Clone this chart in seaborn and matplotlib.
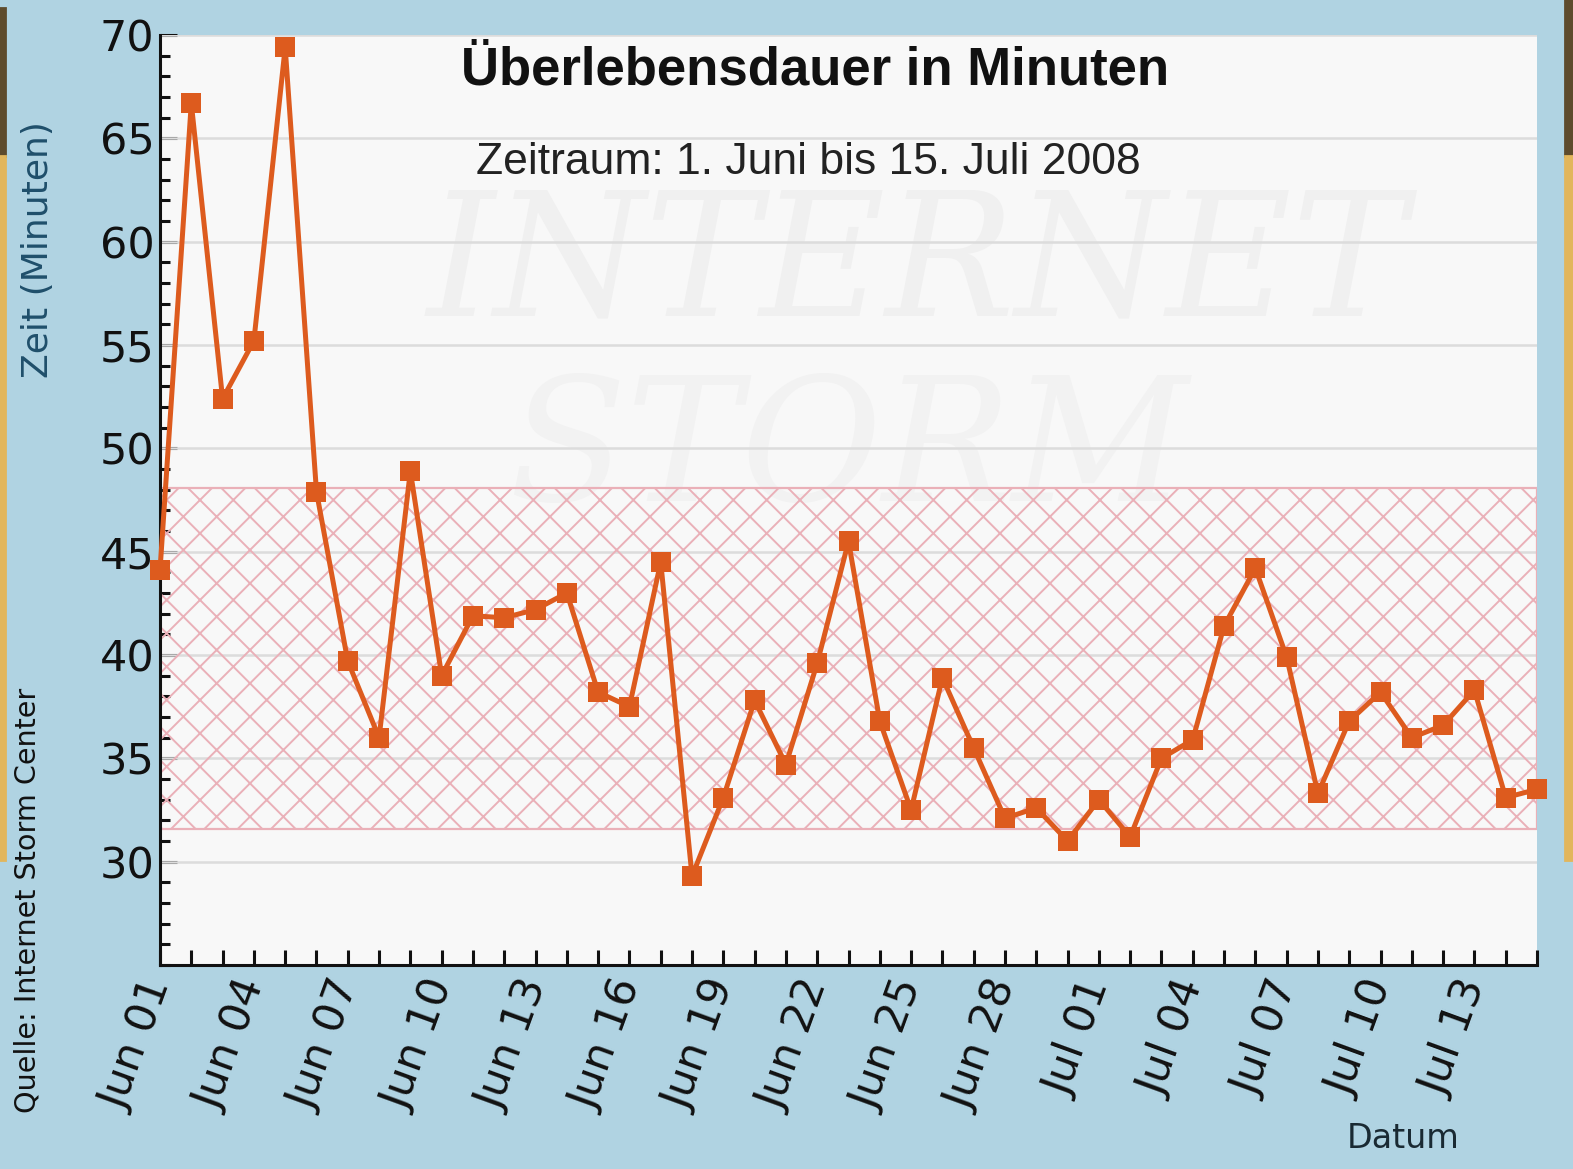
"""
Überlebensdauer in Minuten (Internet Storm Center survival time),
1 June - 15 July 2008, with the hatched normal band.

Output: out.png
"""
import numpy as np
import pandas as pd
import matplotlib
matplotlib.use("Agg")
import matplotlib.pyplot as plt
import matplotlib.dates as mdates
from matplotlib.patches import Rectangle
from matplotlib.ticker import MultipleLocator
import seaborn as sns

sns.set_theme(style="white")
plt.rcParams["font.family"] = ["DejaVu Sans"]
plt.rcParams["hatch.linewidth"] = 0.7

BG_BLUE = "#b0d3e2"
PLOT_BG = "#f8f8f8"
LINE_COLOR = "#dd5b1e"
HATCH_COLOR = "#eab0b8"

# daily survival time in minutes, 2008-06-01 .. 2008-07-15
DATES = pd.date_range("2008-06-01", "2008-07-15", freq="D")
MINUTES = [
    44.1, 66.7, 52.4, 55.2, 69.4, 47.9, 39.7, 36.0, 48.9, 39.0,
    41.9, 41.8, 42.2, 43.0, 38.2, 37.5, 44.5, 29.3, 33.1, 37.8,
    34.7, 39.6, 45.5, 36.8, 32.5, 38.9, 35.5, 32.1, 32.6, 31.0,
    33.0, 31.2, 35.0, 35.9, 41.4, 44.2, 39.9, 33.3, 36.8, 38.2,
    36.0, 36.6, 38.3, 33.1, 33.5,
]
BAND_LOW, BAND_HIGH = 31.6, 48.1

TITLE = "Überlebensdauer in Minuten"
SUBTITLE = "Zeitraum: 1. Juni bis 15. Juli 2008"


def main():
    df = pd.DataFrame({"datum": DATES, "minuten": MINUTES})

    W, H = 1573, 1169
    fig = plt.figure(figsize=(W / 200, H / 200), dpi=200, facecolor=BG_BLUE)

    # screenshot edge strips
    for x0, y0, w, h, c in [(0, 8, 5, 148, "#5e4b2c"), (0, 156, 5, 704, "#e2b65c"),
                            (1565, 0, 8, 156, "#5e4b2c"), (1565, 156, 8, 704, "#e2b65c")]:
        fig.patches.append(Rectangle((x0 / W, 1 - (y0 + h) / H), w / W, h / H,
                                     transform=fig.transFigure, color=c, zorder=0))

    ax = fig.add_axes([160 / W, 1 - 965 / H, 1377 / W, 930 / H])
    ax.set_facecolor(PLOT_BG)

    # faint watermark
    ax.text(0.55, 0.75, "INTERNET", transform=ax.transAxes, ha="center", va="center",
            fontsize=62, family="DejaVu Serif", style="italic", color="#f0f0f0", zorder=0)
    ax.text(0.5, 0.55, "STORM", transform=ax.transAxes, ha="center", va="center",
            fontsize=62, family="DejaVu Serif", style="italic", color="#f2f2f2", zorder=0)

    for y in range(30, 71, 5):
        ax.axhline(y, color="#dcdcdc", lw=0.9, zorder=1)

    ax.axhspan(BAND_LOW, BAND_HIGH, facecolor="none", edgecolor=HATCH_COLOR,
               hatch="xx", lw=0.8, zorder=2)

    sns.lineplot(data=df, x="datum", y="minuten", ax=ax, color=LINE_COLOR,
                 lw=1.8, marker="s", markersize=7.5, markeredgewidth=0,
                 clip_on=False, zorder=3)

    ax.set_xlim(DATES[0], DATES[-1])
    ax.set_ylim(25, 70)
    ax.set_yticks(np.arange(30, 71, 5))
    ax.yaxis.set_minor_locator(MultipleLocator(1))
    ax.xaxis.set_major_locator(mdates.DayLocator(interval=3))
    ax.xaxis.set_minor_locator(mdates.DayLocator())
    ax.xaxis.set_major_formatter(mdates.DateFormatter("%b %d"))

    for side in ("top", "right"):
        ax.spines[side].set_visible(False)
    for side in ("left", "bottom"):
        ax.spines[side].set_color("#111111")
        ax.spines[side].set_linewidth(1.1)

    ax.tick_params(axis="y", which="major", direction="in", length=6, width=1.1,
                   labelsize=15.5, pad=2, colors="#111111", left=True)
    ax.tick_params(axis="y", which="minor", direction="in", length=3.6, width=1.1,
                   colors="#111111", left=True)
    ax.tick_params(axis="x", which="both", direction="in", length=5.5, width=1.1,
                   labelsize=15.5, pad=6, colors="#111111", bottom=True)
    for lab in ax.get_xticklabels():
        lab.set_rotation(70)
        lab.set_ha("right")
        lab.set_va("center")
        lab.set_rotation_mode("anchor")

    ax.set_xlabel("")
    ax.set_ylabel("")
    ax.text(0.476, 0.962, TITLE, transform=ax.transAxes, ha="center", va="center",
            fontsize=19, fontweight="bold", family="Liberation Sans", color="#111111")
    ax.text(0.471, 0.863, SUBTITLE, transform=ax.transAxes, ha="center", va="center",
            fontsize=16, family="Liberation Sans", color="#222222")

    fig.text(38 / W, 1 - 250 / H, "Zeit (Minuten)", rotation=90, ha="center",
             va="center", fontsize=13, color="#1f4f6b")
    fig.text(28 / W, 1 - 900 / H, "Quelle: Internet Storm Center", rotation=90,
             ha="center", va="center", fontsize=10.3, color="#111111")
    fig.text(1403 / W, 1 - 1138 / H, "Datum", ha="center", va="center",
             fontsize=12, color="#1a2a33")

    fig.savefig("out.png", dpi=200, facecolor=BG_BLUE)
    plt.close(fig)


if __name__ == "__main__":
    main()
